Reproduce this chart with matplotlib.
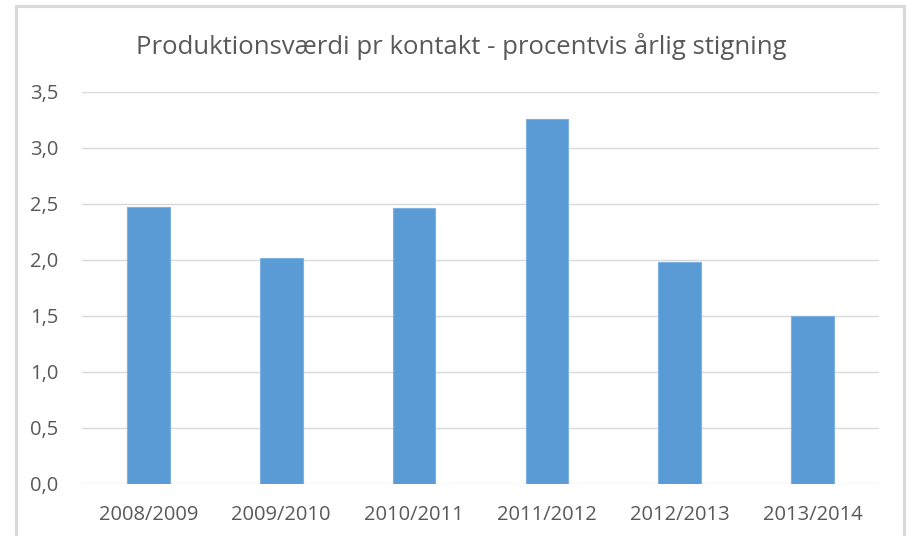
import matplotlib.pyplot as plt
from matplotlib.lines import Line2D
from matplotlib.ticker import FuncFormatter

plt.rcParams['font.family'] = ['Open Sans', 'DejaVu Sans']

# data
periods = ['2008/2009', '2009/2010', '2010/2011', '2011/2012', '2012/2013', '2013/2014']
increase = [2.47, 2.02, 2.46, 3.26, 1.98, 1.50]
y_ticks = [0.0, 0.5, 1.0, 1.5, 2.0, 2.5, 3.0, 3.5]

W, H = 906, 536
TEXT = '#595959'
GRID = '#D9D9D9'
BAR = '#5B9BD5'

fig = plt.figure(figsize=(W / 100, H / 100), dpi=100)
ax = fig.add_axes([82 / W, 52 / H, (879 - 82) / W, (484 - 92) / H])

x = range(len(periods))
ax.bar(x, increase, width=0.32, color=BAR, edgecolor='#7EB1E1', linewidth=0.8, zorder=3)

ax.set_xlim(-0.5, len(periods) - 0.5)
ax.set_ylim(0, 3.5)
ax.set_yticks(y_ticks)
ax.yaxis.set_major_formatter(FuncFormatter(lambda v, _: f'{v:.1f}'.replace('.', ',')))
ax.set_xticks(list(x))
ax.set_xticklabels(periods)

ax.grid(axis='y', color=GRID, linewidth=1.0, zorder=0)
for s in ax.spines.values():
    s.set_visible(False)
ax.tick_params(axis='both', length=0, colors=TEXT, labelsize=14.5)
ax.tick_params(axis='y', pad=17)
ax.tick_params(axis='x', pad=15)

fig.text(461 / W, 1 - 46 / H, 'Produktionsværdi pr kontakt - procentvis årlig stigning',
         ha='center', va='center', fontsize=18.5, color=TEXT)

# outer chart frame (light gray, open at the bottom)
fig.add_artist(Line2D([16 / W, 16 / W], [0, 1 - 6 / H], color=GRID, linewidth=2.2))
fig.add_artist(Line2D([16 / W, 904 / W], [1 - 6 / H, 1 - 6 / H], color=GRID, linewidth=2.2))
fig.add_artist(Line2D([904 / W, 904 / W], [0, 1 - 6 / H], color=GRID, linewidth=2.2))

fig.savefig('out.png', dpi=100)
